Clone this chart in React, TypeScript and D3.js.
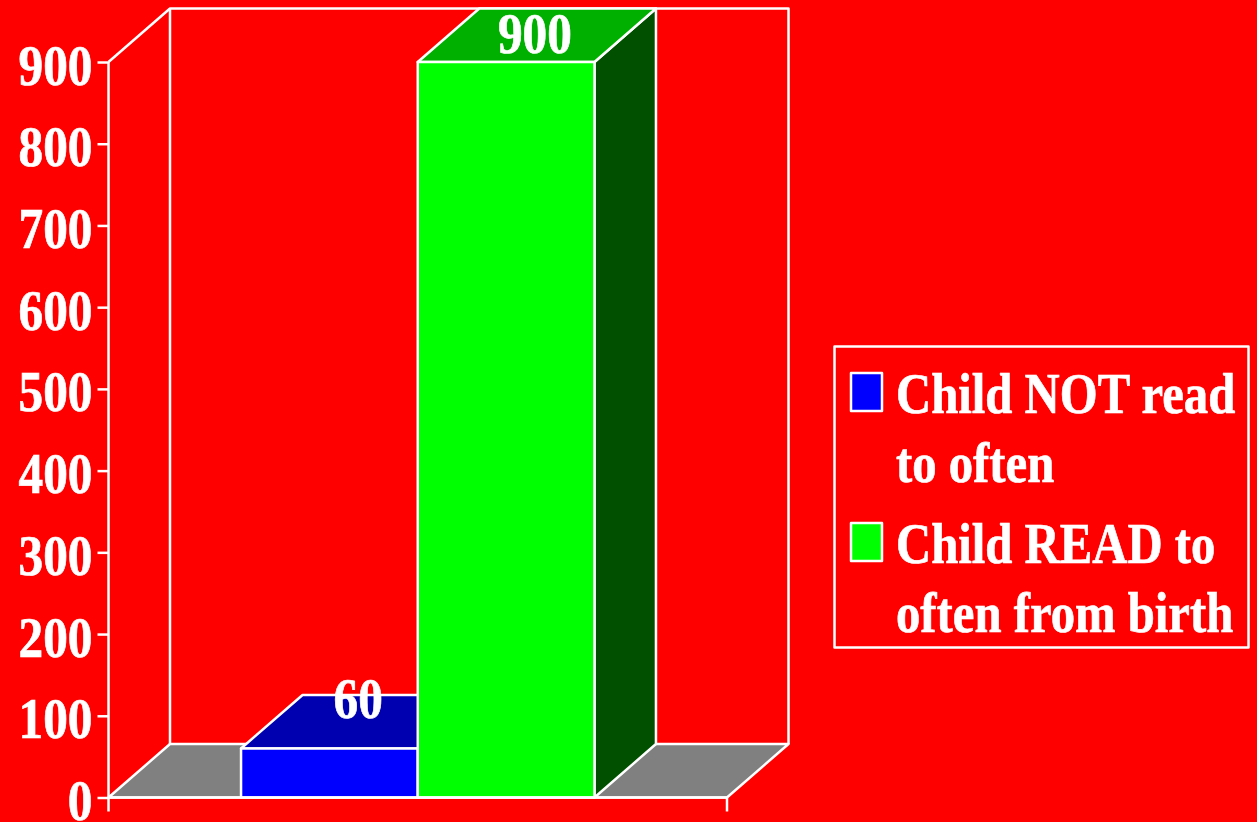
import { useEffect, useRef } from 'react'
import * as d3 from 'd3'

const seriesNames = ['Child NOT read to often', 'Child READ to often from birth']
const seriesValues = [60, 900]
const frontColors = ['#0000ff', '#00ff00']
const topColors = ['#0000b0', '#00b000']
const sideColors = ['#000050', '#005000']
const legendLines = [['Child NOT read', 'to often'], ['Child READ to', 'often from birth']]
const yTicks = [0, 100, 200, 300, 400, 500, 600, 700, 800, 900]

const WIDTH = 1257
const HEIGHT = 822
const FONT = '"Liberation Serif", serif'
const SQUEEZE = 'scale(0.85,1)'
const LEGEND_SQUEEZE = 'scale(0.84,1)'

export default function App() {
  const svgRef = useRef<SVGSVGElement>(null)

  useEffect(() => {
    if (!svgRef.current) return
    const svg = d3.select(svgRef.current)
    svg.selectAll('*').remove()

    const left = 108.5
    const right = 727
    const bottom = 797.5
    const top = 62
    // 3d offset of the back wall
    const dx = 61.5
    const dy = -53.5

    const x = d3.scaleBand<string>().domain(seriesNames).range([left, right]).paddingInner(0).paddingOuter(0.75)
    const y = d3.scaleLinear().domain([0, 900]).range([bottom, top])

    const poly = (pts: number[][]) => pts.map(p => p.join(',')).join(' ')
    const stroke = (sel: any) => sel.attr('stroke', '#fff').attr('stroke-width', 2.5).attr('stroke-linejoin', 'round')
    const labelStyle = (sel: any) => sel
      .attr('fill', '#fff')
      .attr('stroke', '#fff')
      .attr('stroke-width', 0.7)
      .style('font-family', FONT)
      .style('font-size', '58px')
      .style('font-weight', 'bold')

    svg.append('rect').attr('width', WIDTH).attr('height', HEIGHT).attr('fill', '#ff0000')

    // back wall and left wall outline
    svg.append('polyline')
      .attr('points', poly([[left, top], [left + dx, top + dy], [right + dx, top + dy], [right + dx, bottom + dy]]))
      .attr('fill', 'none')
      .call(stroke)
    svg.append('line')
      .attr('x1', left + dx).attr('x2', left + dx)
      .attr('y1', top + dy).attr('y2', bottom + dy)
      .call(stroke)

    // floor
    svg.append('polygon')
      .attr('points', poly([[left, bottom], [left + dx, bottom + dy], [right + dx, bottom + dy], [right, bottom]]))
      .attr('fill', '#808080')
      .call(stroke)

    // bars
    seriesNames.forEach((name, i) => {
      const x0 = x(name)!
      const x1 = x0 + x.bandwidth()
      const yv = y(seriesValues[i])
      svg.append('polygon')
        .attr('points', poly([[x1, bottom], [x1 + dx, bottom + dy], [x1 + dx, yv + dy], [x1, yv]]))
        .attr('fill', sideColors[i])
        .call(stroke)
      svg.append('polygon')
        .attr('points', poly([[x0, yv], [x0 + dx, yv + dy], [x1 + dx, yv + dy], [x1, yv]]))
        .attr('fill', topColors[i])
        .call(stroke)
      svg.append('rect')
        .attr('x', x0).attr('y', yv)
        .attr('width', x.bandwidth()).attr('height', bottom - yv)
        .attr('fill', frontColors[i])
        .call(stroke)
    })

    // y axis
    const yAxis = svg.append('g')
      .attr('transform', `translate(${left},0)`)
      .call(d3.axisLeft(y).tickValues(yTicks).tickSize(11).tickSizeOuter(0).tickFormat(d3.format('d')))
    yAxis.select('.domain').remove()
    yAxis.selectAll('line').attr('stroke', '#fff').attr('stroke-width', 2.5)
    yAxis.selectAll('text')
      .attr('x', 0).attr('dy', null)
      .attr('transform', `translate(-16,22) ${SQUEEZE}`)
      .attr('text-anchor', 'end')
      .call(labelStyle)
    svg.append('line')
      .attr('x1', left).attr('x2', left)
      .attr('y1', top).attr('y2', bottom + 14)
      .call(stroke)

    // x axis
    svg.append('line')
      .attr('x1', left).attr('x2', right)
      .attr('y1', bottom).attr('y2', bottom)
      .call(stroke)
    svg.append('line')
      .attr('x1', right).attr('x2', right)
      .attr('y1', bottom).attr('y2', bottom + 14)
      .call(stroke)

    // value labels, pushed down when they would leave the plot
    seriesNames.forEach((name, i) => {
      const cx = x(name)! + x.bandwidth() / 2 + dx / 2 - 2
      const by = Math.max(y(seriesValues[i]) - 30, 53)
      svg.append('text')
        .attr('transform', `translate(${cx},${by}) ${SQUEEZE}`)
        .attr('text-anchor', 'middle')
        .call(labelStyle)
        .text(seriesValues[i])
    })

    // legend
    const legend = svg.append('g')
    legend.append('rect')
      .attr('x', 834.5).attr('y', 346.5)
      .attr('width', 414).attr('height', 301)
      .attr('fill', 'none')
      .call(stroke)
    legendLines.forEach((lines, i) => {
      const rowTop = 373 + i * 150
      legend.append('rect')
        .attr('x', 851).attr('y', rowTop)
        .attr('width', 31).attr('height', 38)
        .attr('fill', frontColors[i])
        .call(stroke)
      lines.forEach((line, j) => {
        legend.append('text')
          .attr('transform', `translate(896,${rowTop + 40 + j * 69}) ${LEGEND_SQUEEZE}`)
          .call(labelStyle)
          .text(line)
      })
    })
  }, [])

  return (
    <svg
      ref={svgRef}
      width={WIDTH}
      height={HEIGHT}
      style={{ position: 'absolute', left: 0, top: 0, display: 'block' }}
    ></svg>
  )
}
